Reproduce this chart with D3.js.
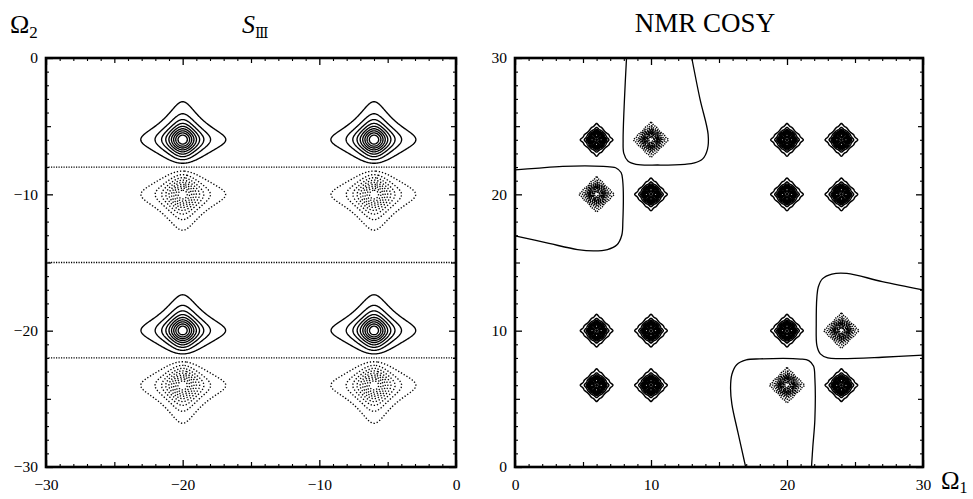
<!DOCTYPE html>
<html>
<head>
<meta charset="utf-8">
<script src="https://cdn.jsdelivr.net/npm/d3@7"></script>
<style>
  html, body { margin: 0; padding: 0; background: #fff; }
  svg { display: block; }
</style>
</head>
<body>
<svg id="chart" width="973" height="499"></svg>
<script>
// ---------------- DATA ----------------
// Left panel (S_III): peak positions (Omega1 columns, Omega2 rows with sign)
const s3PeakOmega1 = [-20, -6];
const s3PeakOmega2 = [-6, -10, -20, -24];
const s3PeakSign2 = [1, -1, 1, -1];
const s3LineWidth = 1.0;
const s3Levels = [0.094, 0.189, 0.283, 0.377, 0.472, 0.566, 0.660, 0.754, 0.849];
const s3ZeroLines = [-8, -15, -22];

// Right panel (NMR COSY): peak centres and sign
const cosyOmega1 = [6, 10, 20, 24, 6, 10, 20, 24, 6, 10, 20, 24, 6, 10, 20, 24];
const cosyOmega2 = [24, 24, 24, 24, 20, 20, 20, 20, 10, 10, 10, 10, 6, 6, 6, 6];
const cosySign   = [1, -1, 1, 1, -1, 1, 1, 1, 1, 1, 1, -1, 1, 1, -1, 1];
const cosyMultipletDx = [0.36, -0.36, 0, 0];
const cosyMultipletDy = [0, 0, 0.36, -0.36];
const cosyLineWidth = 0.2;
const cosyLevelsPos = [0.07, 0.14, 0.22, 0.3, 0.38, 0.46, 0.54, 0.62, 0.7, 0.78, 0.86];
const cosyLevelsNeg = [0.06, 0.1, 0.15, 0.2, 0.26, 0.33, 0.4, 0.48, 0.56, 0.64, 0.72, 0.8, 0.88];

// zero-level boundary curves (Omega1, Omega2)
const zeroCurveTop = [[13.0,30],[13.6,27],[14.2,24.4],[14.15,23.3],[13.8,22.6],[13.2,22.3],[12.5,22.2],[10.5,22.15],[8.9,22.2],[8.3,22.45],[8.0,23.0],[7.95,24],[8.05,27],[8.2,30]];
const zeroCurveLeft = [[0,16.96],[2.5,16.4],[4.6,15.95],[5.8,15.85],[6.8,15.95],[7.5,16.3],[7.85,17.0],[7.93,18],[7.92,21.0],[7.8,21.6],[7.4,21.95],[6.5,22.05],[3.5,22.05],[1.5,21.9],[0,21.8]];
const zeroCurveRight = [[30,13.0],[27,13.6],[24.4,14.2],[23.3,14.15],[22.6,13.8],[22.3,13.2],[22.2,12.5],[22.15,10.5],[22.2,8.9],[22.45,8.3],[23.0,8.0],[24,7.95],[27,8.05],[30,8.2]];
const zeroCurveBottom = [[16.96,0],[16.4,2.5],[15.95,4.6],[15.85,5.8],[15.95,6.8],[16.3,7.5],[17.0,7.85],[18,7.93],[21.0,7.92],[21.6,7.8],[21.95,7.4],[22.05,6.5],[22.05,3.5],[21.9,1.5],[21.8,0]];

// ticks
const ticksLeftMajor = [-30, -20, -10, 0];
const ticksRightMajor = [0, 10, 20, 30];

// ---------------- LAYOUT ----------------
const svg = d3.select("#chart");
svg.append("rect").attr("width", 973).attr("height", 499).attr("fill", "#fff");
const serif = "'Liberation Serif', 'DejaVu Serif', serif";

const xL = d3.scaleLinear().domain([-30, 0]).range([46, 456]);
const yL = d3.scaleLinear().domain([-30, 0]).range([467, 58]);
const xR = d3.scaleLinear().domain([0, 30]).range([515, 923]);
const yR = d3.scaleLinear().domain([0, 30]).range([467, 58]);

const lorentz = u => 1 / (1 + u * u);

function contourPaths(values, nx, ny, x0, y0, step, thresholds, xs, ys) {
  const gen = d3.contours().size([nx, ny]).thresholds(thresholds);
  const proj = d3.geoTransform({
    point(px, py) { this.stream.point(xs(x0 + (px - 0.5) * step), ys(y0 + (py - 0.5) * step)); }
  });
  const path = d3.geoPath(proj);
  return gen(values).map(c => path(c)).filter(d => d);
}

// ---------------- LEFT PANEL ----------------
(function leftPanel() {
  const step = 0.05;
  const n = Math.round(30 / step) + 1;
  const x0 = -30, y0 = -30;
  const A = new Float64Array(n), B = new Float64Array(n);
  for (let i = 0; i < n; i++) {
    const x = x0 + i * step;
    let a = 0;
    s3PeakOmega1.forEach(c => { a += lorentz((x - c) / s3LineWidth); });
    A[i] = a;
    let b = 0;
    s3PeakOmega2.forEach((c, k) => { b += s3PeakSign2[k] * lorentz((x - c) / s3LineWidth); });
    B[i] = b;
  }
  const pos = new Float64Array(n * n), neg = new Float64Array(n * n);
  for (let j = 0; j < n; j++) for (let i = 0; i < n; i++) {
    const v = A[i] * B[j];
    pos[j * n + i] = v; neg[j * n + i] = -v;
  }
  const g = svg.append("g");
  g.selectAll("path.pos").data(contourPaths(pos, n, n, x0, y0, step, s3Levels, xL, yL))
    .join("path").attr("class", "pos").attr("d", d => d)
    .attr("fill", "none").attr("stroke", "#000").attr("stroke-width", 1.35);
  g.selectAll("path.neg").data(contourPaths(neg, n, n, x0, y0, step, s3Levels, xL, yL))
    .join("path").attr("class", "neg").attr("d", d => d)
    .attr("fill", "none").attr("stroke", "#000").attr("stroke-width", 1.35)
    .attr("stroke-dasharray", "1.3,1.9");
  g.selectAll("line.zero").data(s3ZeroLines).join("line").attr("class", "zero")
    .attr("x1", xL(-30)).attr("x2", xL(0)).attr("y1", d => yL(d)).attr("y2", d => yL(d))
    .attr("stroke", "#000").attr("stroke-width", 1.3).attr("stroke-dasharray", "1.2,1.3");
})();

// ---------------- RIGHT PANEL ----------------
(function rightPanel() {
  const half = 1.7, step = 0.025;
  const n = Math.round(2 * half / step) + 1;
  const g = svg.append("g");
  cosyOmega1.forEach((cx, p) => {
    const cy = cosyOmega2[p];
    const x0 = cx - half, y0 = cy - half;
    const vals = new Float64Array(n * n);
    let vmax = 0;
    for (let j = 0; j < n; j++) for (let i = 0; i < n; i++) {
      const x = x0 + i * step, y = y0 + j * step;
      let v = 0;
      for (let k = 0; k < cosyMultipletDx.length; k++) {
        v += lorentz((x - cx - cosyMultipletDx[k]) / cosyLineWidth) * lorentz((y - cy - cosyMultipletDy[k]) / cosyLineWidth);
      }
      vals[j * n + i] = v;
      if (v > vmax) vmax = v;
    }
    const positive = cosySign[p] > 0;
    const levels = (positive ? cosyLevelsPos : cosyLevelsNeg).map(f => f * vmax);
    const paths = contourPaths(vals, n, n, x0, y0, step, levels, xR, yR);
    g.append("g").selectAll("path").data(paths).join("path")
      .attr("d", d => d).attr("fill", "none").attr("stroke", "#000")
      .attr("stroke-width", positive ? 1.5 : 1.5)
      .attr("stroke-dasharray", positive ? null : "1.3,1");
  });
  const line = d3.line().x(d => xR(d[0])).y(d => yR(d[1])).curve(d3.curveCatmullRom.alpha(0.5));
  g.selectAll("path.zc").data([zeroCurveTop, zeroCurveLeft, zeroCurveRight, zeroCurveBottom])
    .join("path").attr("class", "zc").attr("d", line)
    .attr("fill", "none").attr("stroke", "#000").attr("stroke-width", 1.3);
})();

// ---------------- AXES & FRAMES ----------------
function drawAxes(xs, ys, major) {
  const [d0, d1] = xs.domain();
  const minor = d3.range(d0, d1 + 0.001, 1).filter(v => !major.includes(v) && v % 5 !== 0);
  const fives = d3.range(d0, d1 + 0.001, 1).filter(v => !major.includes(v) && v % 5 === 0);
  const ymajor = major, [e0, e1] = ys.domain();
  const yminor = d3.range(e0, e1 + 0.001, 1).filter(v => !ymajor.includes(v) && v % 5 !== 0);
  const yfives = d3.range(e0, e1 + 0.001, 1).filter(v => !ymajor.includes(v) && v % 5 === 0);
  const bottom = ys.range()[0], top = ys.range()[1];
  const left = xs.range()[0], right = xs.range()[1];
  const fmt = d3.format("");
  const specs = [
    [d3.axisBottom(xs), `translate(0,${bottom})`, "x"],
    [d3.axisTop(xs), `translate(0,${top})`, "x"],
    [d3.axisLeft(ys), `translate(${left},0)`, "y"],
    [d3.axisRight(ys), `translate(${right},0)`, "y"]
  ];
  specs.forEach(([ax, tr, kind], idx) => {
    const mj = kind === "x" ? major : ymajor;
    const mn = kind === "x" ? minor : yminor;
    const fv = kind === "x" ? fives : yfives;
    const labelled = idx === 0 || idx === 2;
    const gMaj = svg.append("g").attr("transform", tr)
      .call(ax.tickValues(mj).tickSizeInner(-7).tickSizeOuter(0)
        .tickPadding(kind === "x" ? 12 : 8).tickFormat(labelled ? fmt : () => ""));
    gMaj.select(".domain").remove();
    gMaj.attr("font-family", serif).attr("font-size", 15.5);
    gMaj.selectAll("line").attr("stroke-width", 1.3);
    const gFive = svg.append("g").attr("transform", tr)
      .call(ax.tickValues(fv).tickSizeInner(-5).tickFormat(() => ""));
    gFive.select(".domain").remove();
    gFive.selectAll("line").attr("stroke-width", 1.2);
    const gMin = svg.append("g").attr("transform", tr)
      .call(ax.tickValues(mn).tickSizeInner(-3).tickFormat(() => ""));
    gMin.select(".domain").remove();
    gMin.selectAll("line").attr("stroke-width", 1.1);
  });
  svg.append("rect").attr("x", left).attr("y", top)
    .attr("width", right - left).attr("height", bottom - top)
    .attr("fill", "none").attr("stroke", "#000").attr("stroke-width", 2.6);
}
drawAxes(xL, yL, ticksLeftMajor);
drawAxes(xR, yR, ticksRightMajor);

// ---------------- TITLES ----------------
const t1 = svg.append("text").attr("x", 10).attr("y", 33).attr("font-family", serif).attr("font-size", 26);
t1.append("tspan").text("Ω");
t1.append("tspan").attr("font-size", 17).attr("dy", 5).text("2");

const t2 = svg.append("text").attr("x", 242).attr("y", 33).attr("font-family", serif).attr("font-size", 26);
t2.append("tspan").attr("font-style", "italic").text("S");
t2.append("tspan").attr("font-size", 14).attr("dy", 5).attr("font-family", "'DejaVu Serif', serif").text("Ⅲ");

svg.append("text").attr("x", 705).attr("y", 32).attr("text-anchor", "middle")
  .attr("font-family", serif).attr("font-size", 27).text("NMR COSY");

const t4 = svg.append("text").attr("x", 941).attr("y", 489).attr("font-family", serif).attr("font-size", 25);
t4.append("tspan").text("Ω");
t4.append("tspan").attr("font-size", 16).attr("dy", 4).text("1");
</script>
</body>
</html>
